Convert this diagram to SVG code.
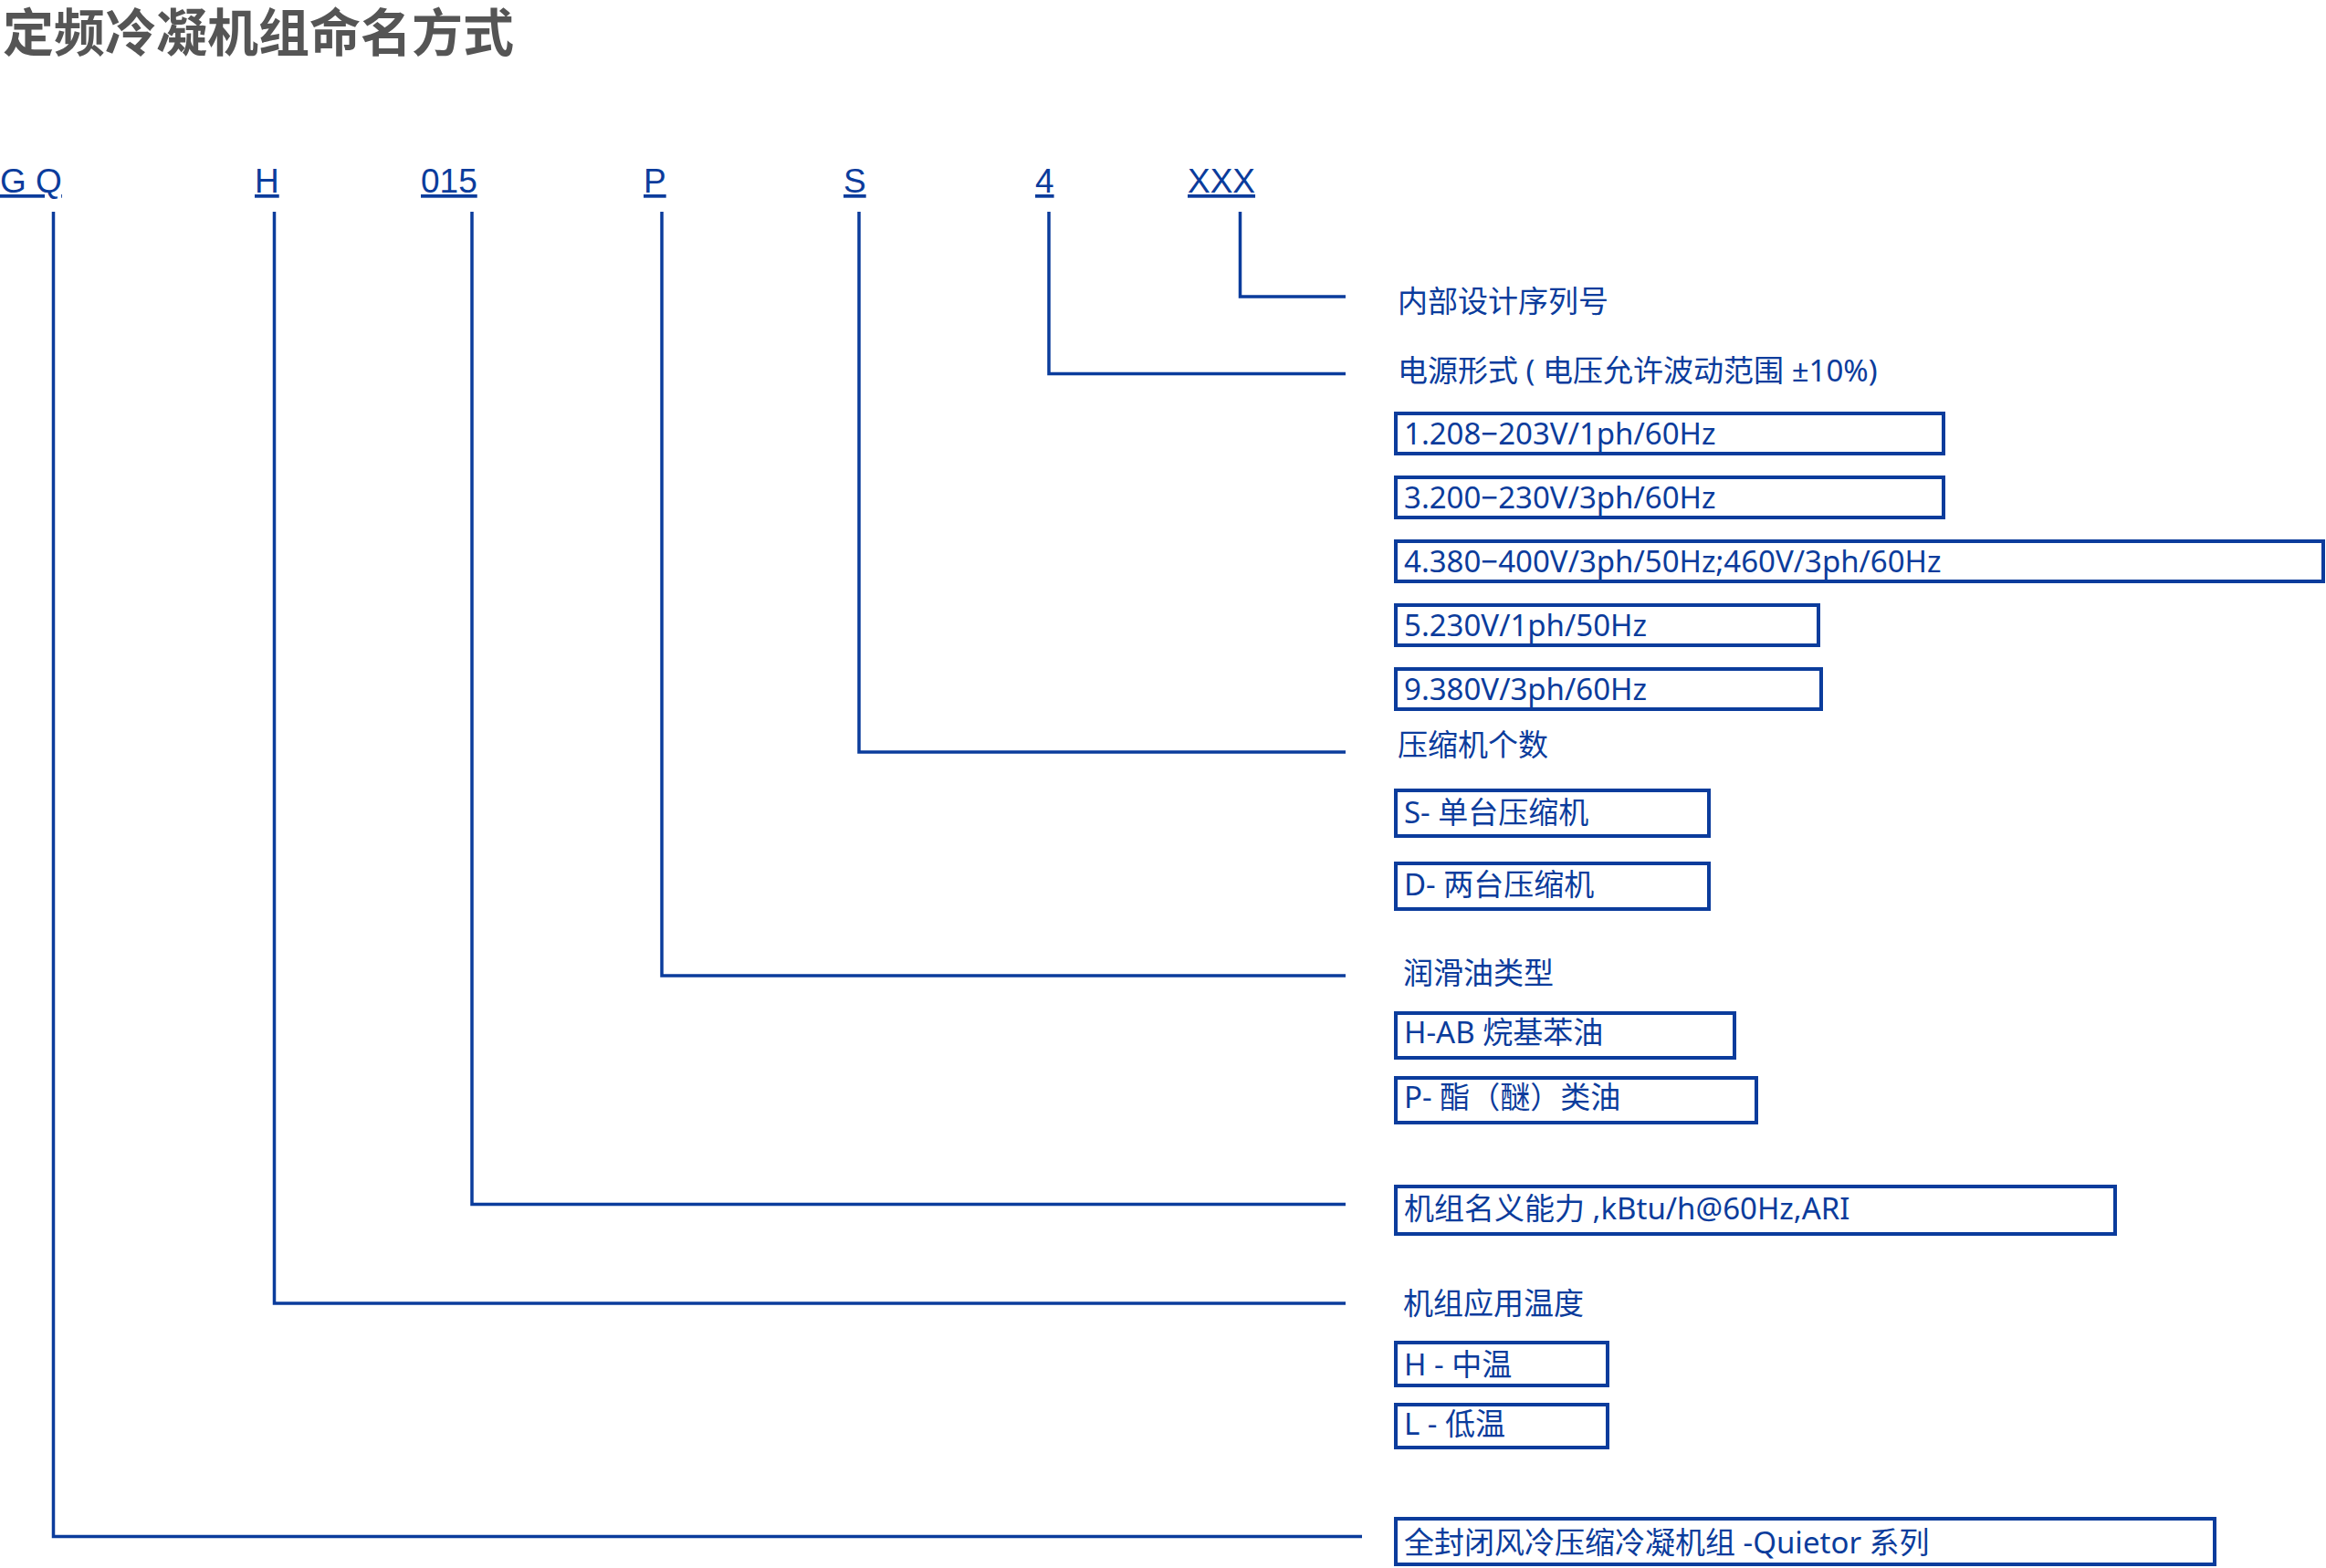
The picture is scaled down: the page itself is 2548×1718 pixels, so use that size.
<svg xmlns="http://www.w3.org/2000/svg" width="2548" height="1718" viewBox="0 0 2548 1718">
<style>
.t{font-family:"Noto Sans","Noto Sans CJK SC",sans-serif;font-size:33px;fill:#0b3c9c}
.c{font-family:"Liberation Sans","Noto Sans",sans-serif;font-size:37px;fill:#0b3c9c;text-decoration:underline}
.b{fill:none;stroke:#0b3c9c;stroke-width:4}
.l{fill:none;stroke:#0b3c9c;stroke-width:3.5}
</style>
<rect width="2548" height="1718" fill="#fff"/>
<text x="3" y="56" style="font-family:'Noto Sans CJK SC',sans-serif;font-size:56px;font-weight:bold;fill:#555">定频冷凝机组命名方式</text>
<g id="codes">
<text class="c" x="0" y="211">G Q</text>
<text class="c" x="279" y="211">H</text>
<text class="c" x="461" y="211">015</text>
<text class="c" x="705" y="211">P</text>
<text class="c" x="924" y="211">S</text>
<text class="c" x="1134" y="211">4</text>
<text class="c" x="1301" y="211">XXX</text>
</g>
<g id="connectors">
<polyline class="l" points="1358.5,232 1358.5,325 1474,325"/>
<polyline class="l" points="1149,232 1149,409.5 1474,409.5"/>
<polyline class="l" points="941,232 941,824 1474,824"/>
<polyline class="l" points="725,232 725,1069 1474,1069"/>
<polyline class="l" points="517,232 517,1319.5 1474,1319.5"/>
<polyline class="l" points="300.5,232 300.5,1428 1474,1428"/>
<polyline class="l" points="58.5,232 58.5,1683.5 1492,1683.5"/>
</g>
<g id="serial"><text class="t" x="1531" y="342">内部设计序列号</text></g>
<g id="power">
<text class="t" x="1531" y="418">电源形式 ( 电压允许波动范围 ±10%)</text>
<rect class="b" x="1529" y="453" width="600" height="44"/><text class="t" x="1538" y="487">1.208−203V/1ph/60Hz</text>
<rect class="b" x="1529" y="523" width="600" height="44"/><text class="t" x="1538" y="557">3.200−230V/3ph/60Hz</text>
<rect class="b" x="1529" y="593" width="1016" height="44"/><text class="t" x="1538" y="627">4.380−400V/3ph/50Hz;460V/3ph/60Hz</text>
<rect class="b" x="1529" y="663" width="463" height="44"/><text class="t" x="1538" y="697">5.230V/1ph/50Hz</text>
<rect class="b" x="1529" y="733" width="466" height="44"/><text class="t" x="1538" y="767">9.380V/3ph/60Hz</text>
</g>
<g id="compressors">
<text class="t" x="1531" y="828">压缩机个数</text>
<rect class="b" x="1529" y="866" width="343" height="50"/><text class="t" x="1538" y="902">S- 单台压缩机</text>
<rect class="b" x="1529" y="946" width="343" height="50"/><text class="t" x="1538" y="981">D- 两台压缩机</text>
</g>
<g id="oil">
<text class="t" x="1537" y="1078">润滑油类型</text>
<rect class="b" x="1529" y="1110" width="371" height="49"/><text class="t" x="1538" y="1143">H-AB 烷基苯油</text>
<rect class="b" x="1529" y="1181" width="395" height="49"/><text class="t" x="1538" y="1214">P- 酯（醚）类油</text>
</g>
<g id="capacity">
<rect class="b" x="1529" y="1300" width="788" height="52"/><text class="t" x="1538" y="1336">机组名义能力 ,kBtu/h@60Hz,ARI</text>
</g>
<g id="temp">
<text class="t" x="1537" y="1440">机组应用温度</text>
<rect class="b" x="1529" y="1471" width="232" height="47"/><text class="t" x="1538" y="1507">H - 中温</text>
<rect class="b" x="1529" y="1539" width="232" height="47"/><text class="t" x="1538" y="1572">L - 低温</text>
</g>
<g id="series">
<rect class="b" x="1529" y="1664" width="897" height="50"/><text class="t" x="1538" y="1702">全封闭风冷压缩冷凝机组 -Quietor 系列</text>
</g>
</svg>
